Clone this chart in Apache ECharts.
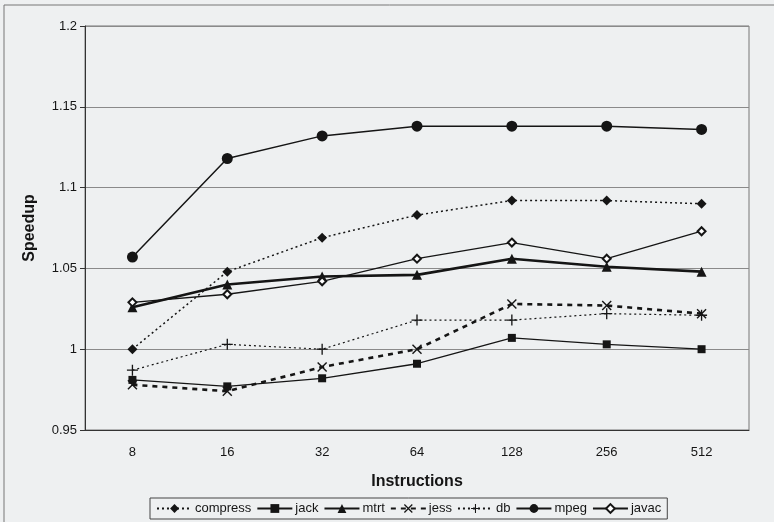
<!DOCTYPE html>
<html>
<head>
<meta charset="utf-8">
<script src="https://cdn.jsdelivr.net/npm/echarts@6/dist/echarts.min.js"></script>
<style>
  html, body { margin: 0; padding: 0; background: #eef0f1; }
  #chartBox { width: 774px; height: 522px; }
</style>
</head>
<body>
<div id="chartBox"></div>
<script>
// x categories (instructions)
const categories = ['8', '16', '32', '64', '128', '256', '512'];
const yTicks = [0.95, 1, 1.05, 1.1, 1.15, 1.2];

// speedup per benchmark
const compress = [1.000, 1.048, 1.069, 1.083, 1.092, 1.092, 1.090];
const jack     = [0.981, 0.977, 0.982, 0.991, 1.007, 1.003, 1.000];
const mtrt     = [1.026, 1.040, 1.045, 1.046, 1.056, 1.051, 1.048];
const jess     = [0.978, 0.974, 0.989, 1.000, 1.028, 1.027, 1.022];
const db       = [0.987, 1.003, 1.000, 1.018, 1.018, 1.022, 1.021];
const mpeg     = [1.057, 1.118, 1.132, 1.138, 1.138, 1.138, 1.136];
const javac    = [1.029, 1.034, 1.042, 1.056, 1.066, 1.056, 1.073];

const INK = '#151515';
const X_PATH = 'path://M1,0L5,4L9,0L10,1L6,5L10,9L9,10L5,6L1,10L0,9L4,5L0,1Z';
const PLUS_PATH = 'path://M4.4,0H5.6V4.4H10V5.6H5.6V10H4.4V5.6H0V4.4H4.4Z';

function mkSeries(name, data, symbol, size, lineWidth, lineType) {
	return {
		name: name,
		type: 'line',
		data: data,
		symbol: symbol,
		symbolSize: size,
		showAllSymbol: true,
		animation: false,
		lineStyle: { color: INK, width: lineWidth, type: lineType },
		itemStyle: { color: INK, borderColor: INK, borderWidth: symbol.indexOf('empty') === 0 ? 1.2 : 0 }
	};
}

let myChart = echarts.init(document.getElementById('chartBox'));
let option = {
	backgroundColor: '#eef0f1',
	animation: false,
	textStyle: { fontFamily: 'Liberation Sans, Arial, sans-serif', color: INK },
	graphic: [{
		type: 'rect',
		shape: { x: 4, y: 5, width: 780, height: 530 },
		style: { fill: 'none', stroke: '#777', lineWidth: 1 },
		silent: true
	}],
	grid: {
		left: 85, right: 25, top: 26, bottom: 92,
		show: true, borderColor: '#777', borderWidth: 1, backgroundColor: 'transparent'
	},
	legend: {
		left: 150, bottom: 3,
		width: 560,
		padding: [4, 6, 4, 6],
		itemGap: 5,
		itemWidth: 35,
		itemHeight: 11,
		borderColor: '#444',
		borderWidth: 1,
		textStyle: { fontSize: 13, color: INK, padding: [0, 0, 0, -2] },
		data: ['compress', 'jack', 'mtrt', 'jess', 'db', 'mpeg', 'javac']
	},
	xAxis: {
		type: 'category',
		data: categories,
		name: 'Instructions',
		nameLocation: 'middle',
		nameGap: 44,
		nameTextStyle: { fontSize: 16, fontWeight: 'bold', color: INK },
		axisLine: { lineStyle: { color: '#333', width: 1 } },
		axisTick: { lineStyle: { color: '#333' }, length: 4 },
		axisLabel: { fontSize: 13, color: INK, margin: 16 },
		splitLine: { show: false }
	},
	yAxis: {
		type: 'value',
		min: yTicks[0],
		max: yTicks[yTicks.length - 1],
		interval: 0.05,
		name: 'Speedup',
		nameLocation: 'middle',
		nameGap: 47,
		nameTextStyle: { fontSize: 16, fontWeight: 'bold', color: INK },
		axisLine: { show: true, lineStyle: { color: '#333' } },
		axisTick: { show: true, inside: false, length: 5, lineStyle: { color: '#333' } },
		axisLabel: {
			fontSize: 13, color: INK, margin: 8,
			formatter: function (v) { return String(Math.round(v * 100) / 100); }
		},
		splitLine: { lineStyle: { color: '#8a8a8a', width: 1 } }
	},
	series: [
		mkSeries('compress', compress, 'diamond', 10, 1.5, [2, 3]),
		mkSeries('jack', jack, 'rect', 8, 1.3, 'solid'),
		mkSeries('mtrt', mtrt, 'triangle', 10, 2.6, 'solid'),
		mkSeries('jess', jess, X_PATH, 10, 2.6, [5, 5]),
		mkSeries('db', db, PLUS_PATH, 11, 1.2, [2, 3]),
		mkSeries('mpeg', mpeg, 'circle', 11, 1.5, 'solid'),
		mkSeries('javac', javac, 'emptyDiamond', 8, 1.3, 'solid')
	]
};
myChart.setOption(option, true);
</script>
</body>
</html>
